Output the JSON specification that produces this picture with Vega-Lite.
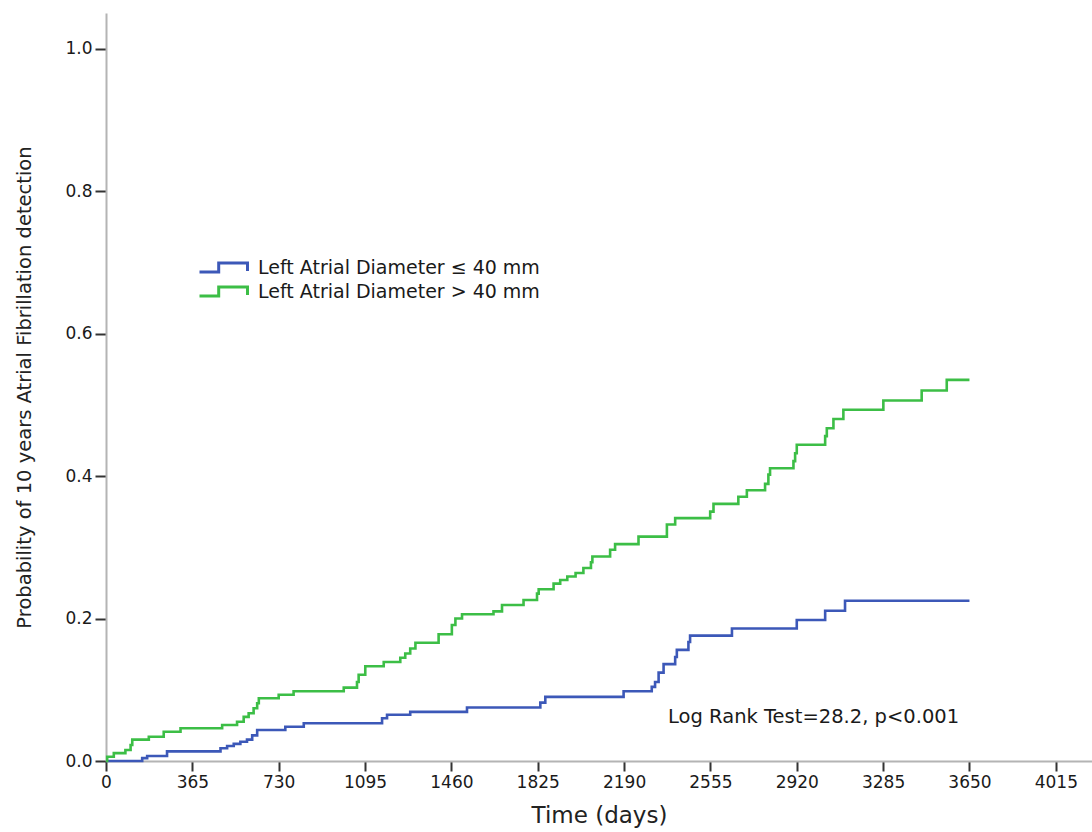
{
  "$schema": "https://vega.github.io/schema/vega-lite/v6.json",
  "autosize": {"type": "none"},
  "padding": {"left": 106, "top": 13, "right": 0, "bottom": 71},
  "width": 986,
  "height": 748,
  "background": "white",
  "config": {"view": {"stroke": null}, "font": "DejaVu Sans"},
  "layer": [
    {
      "data": {"values": [
        {"group": "Left Atrial Diameter ≤ 40 mm", "t": 0, "p": 0},
        {"group": "Left Atrial Diameter ≤ 40 mm", "t": 153, "p": 0.004},
        {"group": "Left Atrial Diameter ≤ 40 mm", "t": 174, "p": 0.007},
        {"group": "Left Atrial Diameter ≤ 40 mm", "t": 258, "p": 0.0135},
        {"group": "Left Atrial Diameter ≤ 40 mm", "t": 484, "p": 0.018},
        {"group": "Left Atrial Diameter ≤ 40 mm", "t": 512, "p": 0.021},
        {"group": "Left Atrial Diameter ≤ 40 mm", "t": 540, "p": 0.024},
        {"group": "Left Atrial Diameter ≤ 40 mm", "t": 568, "p": 0.027},
        {"group": "Left Atrial Diameter ≤ 40 mm", "t": 596, "p": 0.030},
        {"group": "Left Atrial Diameter ≤ 40 mm", "t": 618, "p": 0.036},
        {"group": "Left Atrial Diameter ≤ 40 mm", "t": 639, "p": 0.0435},
        {"group": "Left Atrial Diameter ≤ 40 mm", "t": 758, "p": 0.048},
        {"group": "Left Atrial Diameter ≤ 40 mm", "t": 836, "p": 0.053},
        {"group": "Left Atrial Diameter ≤ 40 mm", "t": 1167, "p": 0.060},
        {"group": "Left Atrial Diameter ≤ 40 mm", "t": 1188, "p": 0.065},
        {"group": "Left Atrial Diameter ≤ 40 mm", "t": 1286, "p": 0.069},
        {"group": "Left Atrial Diameter ≤ 40 mm", "t": 1526, "p": 0.075},
        {"group": "Left Atrial Diameter ≤ 40 mm", "t": 1836, "p": 0.082},
        {"group": "Left Atrial Diameter ≤ 40 mm", "t": 1857, "p": 0.090},
        {"group": "Left Atrial Diameter ≤ 40 mm", "t": 2188, "p": 0.098},
        {"group": "Left Atrial Diameter ≤ 40 mm", "t": 2307, "p": 0.104},
        {"group": "Left Atrial Diameter ≤ 40 mm", "t": 2321, "p": 0.111},
        {"group": "Left Atrial Diameter ≤ 40 mm", "t": 2336, "p": 0.124},
        {"group": "Left Atrial Diameter ≤ 40 mm", "t": 2357, "p": 0.136},
        {"group": "Left Atrial Diameter ≤ 40 mm", "t": 2406, "p": 0.146},
        {"group": "Left Atrial Diameter ≤ 40 mm", "t": 2413, "p": 0.156},
        {"group": "Left Atrial Diameter ≤ 40 mm", "t": 2462, "p": 0.167},
        {"group": "Left Atrial Diameter ≤ 40 mm", "t": 2469, "p": 0.176},
        {"group": "Left Atrial Diameter ≤ 40 mm", "t": 2646, "p": 0.186},
        {"group": "Left Atrial Diameter ≤ 40 mm", "t": 2920, "p": 0.198},
        {"group": "Left Atrial Diameter ≤ 40 mm", "t": 3040, "p": 0.211},
        {"group": "Left Atrial Diameter ≤ 40 mm", "t": 3124, "p": 0.225},
        {"group": "Left Atrial Diameter ≤ 40 mm", "t": 3650, "p": 0.225},
        {"group": "Left Atrial Diameter > 40 mm", "t": 0, "p": 0},
        {"group": "Left Atrial Diameter > 40 mm", "t": 5, "p": 0.006},
        {"group": "Left Atrial Diameter > 40 mm", "t": 33, "p": 0.011},
        {"group": "Left Atrial Diameter > 40 mm", "t": 82, "p": 0.0155},
        {"group": "Left Atrial Diameter > 40 mm", "t": 104, "p": 0.0225},
        {"group": "Left Atrial Diameter > 40 mm", "t": 111, "p": 0.030},
        {"group": "Left Atrial Diameter > 40 mm", "t": 181, "p": 0.034},
        {"group": "Left Atrial Diameter > 40 mm", "t": 244, "p": 0.041},
        {"group": "Left Atrial Diameter > 40 mm", "t": 315, "p": 0.046},
        {"group": "Left Atrial Diameter > 40 mm", "t": 491, "p": 0.0505},
        {"group": "Left Atrial Diameter > 40 mm", "t": 554, "p": 0.055},
        {"group": "Left Atrial Diameter > 40 mm", "t": 582, "p": 0.062},
        {"group": "Left Atrial Diameter > 40 mm", "t": 603, "p": 0.067},
        {"group": "Left Atrial Diameter > 40 mm", "t": 624, "p": 0.074},
        {"group": "Left Atrial Diameter > 40 mm", "t": 639, "p": 0.081},
        {"group": "Left Atrial Diameter > 40 mm", "t": 646, "p": 0.088},
        {"group": "Left Atrial Diameter > 40 mm", "t": 730, "p": 0.093},
        {"group": "Left Atrial Diameter > 40 mm", "t": 793, "p": 0.098},
        {"group": "Left Atrial Diameter > 40 mm", "t": 1005, "p": 0.103},
        {"group": "Left Atrial Diameter > 40 mm", "t": 1061, "p": 0.111},
        {"group": "Left Atrial Diameter > 40 mm", "t": 1068, "p": 0.121},
        {"group": "Left Atrial Diameter > 40 mm", "t": 1096, "p": 0.133},
        {"group": "Left Atrial Diameter > 40 mm", "t": 1174, "p": 0.139},
        {"group": "Left Atrial Diameter > 40 mm", "t": 1244, "p": 0.145},
        {"group": "Left Atrial Diameter > 40 mm", "t": 1265, "p": 0.151},
        {"group": "Left Atrial Diameter > 40 mm", "t": 1286, "p": 0.158},
        {"group": "Left Atrial Diameter > 40 mm", "t": 1308, "p": 0.166},
        {"group": "Left Atrial Diameter > 40 mm", "t": 1406, "p": 0.178},
        {"group": "Left Atrial Diameter > 40 mm", "t": 1462, "p": 0.191},
        {"group": "Left Atrial Diameter > 40 mm", "t": 1477, "p": 0.200},
        {"group": "Left Atrial Diameter > 40 mm", "t": 1505, "p": 0.206},
        {"group": "Left Atrial Diameter > 40 mm", "t": 1638, "p": 0.210},
        {"group": "Left Atrial Diameter > 40 mm", "t": 1674, "p": 0.219},
        {"group": "Left Atrial Diameter > 40 mm", "t": 1765, "p": 0.226},
        {"group": "Left Atrial Diameter > 40 mm", "t": 1822, "p": 0.235},
        {"group": "Left Atrial Diameter > 40 mm", "t": 1829, "p": 0.241},
        {"group": "Left Atrial Diameter > 40 mm", "t": 1892, "p": 0.249},
        {"group": "Left Atrial Diameter > 40 mm", "t": 1920, "p": 0.254},
        {"group": "Left Atrial Diameter > 40 mm", "t": 1950, "p": 0.259},
        {"group": "Left Atrial Diameter > 40 mm", "t": 1985, "p": 0.264},
        {"group": "Left Atrial Diameter > 40 mm", "t": 2018, "p": 0.271},
        {"group": "Left Atrial Diameter > 40 mm", "t": 2050, "p": 0.279},
        {"group": "Left Atrial Diameter > 40 mm", "t": 2056, "p": 0.287},
        {"group": "Left Atrial Diameter > 40 mm", "t": 2131, "p": 0.2966},
        {"group": "Left Atrial Diameter > 40 mm", "t": 2152, "p": 0.3045},
        {"group": "Left Atrial Diameter > 40 mm", "t": 2251, "p": 0.315},
        {"group": "Left Atrial Diameter > 40 mm", "t": 2371, "p": 0.332},
        {"group": "Left Atrial Diameter > 40 mm", "t": 2406, "p": 0.341},
        {"group": "Left Atrial Diameter > 40 mm", "t": 2554, "p": 0.350},
        {"group": "Left Atrial Diameter > 40 mm", "t": 2568, "p": 0.361},
        {"group": "Left Atrial Diameter > 40 mm", "t": 2673, "p": 0.371},
        {"group": "Left Atrial Diameter > 40 mm", "t": 2709, "p": 0.380},
        {"group": "Left Atrial Diameter > 40 mm", "t": 2786, "p": 0.389},
        {"group": "Left Atrial Diameter > 40 mm", "t": 2800, "p": 0.402},
        {"group": "Left Atrial Diameter > 40 mm", "t": 2807, "p": 0.411},
        {"group": "Left Atrial Diameter > 40 mm", "t": 2906, "p": 0.421},
        {"group": "Left Atrial Diameter > 40 mm", "t": 2913, "p": 0.432},
        {"group": "Left Atrial Diameter > 40 mm", "t": 2920, "p": 0.444},
        {"group": "Left Atrial Diameter > 40 mm", "t": 3040, "p": 0.456},
        {"group": "Left Atrial Diameter > 40 mm", "t": 3047, "p": 0.467},
        {"group": "Left Atrial Diameter > 40 mm", "t": 3075, "p": 0.480},
        {"group": "Left Atrial Diameter > 40 mm", "t": 3117, "p": 0.493},
        {"group": "Left Atrial Diameter > 40 mm", "t": 3286, "p": 0.506},
        {"group": "Left Atrial Diameter > 40 mm", "t": 3448, "p": 0.520},
        {"group": "Left Atrial Diameter > 40 mm", "t": 3554, "p": 0.535},
        {"group": "Left Atrial Diameter > 40 mm", "t": 3650, "p": 0.535}
      ]},
      "mark": {"type": "line", "interpolate": "step-after", "strokeWidth": 2.6},
      "encoding": {
        "x": {
          "field": "t", "type": "quantitative",
          "scale": {"domain": [0, 4168], "nice": false, "zero": false},
          "axis": {
            "title": "Time (days)",
            "values": [0, 365, 730, 1095, 1460, 1825, 2190, 2555, 2920, 3285, 3650, 4015],
            "format": "d",
            "labelFlush": false,
            "grid": false,
            "domainColor": "#b4b4b4", "domainWidth": 2,
            "tickColor": "#333333", "tickWidth": 2, "tickSize": 10,
            "labelFontSize": 17, "labelColor": "#1a1a1a", "labelPadding": 3,
            "titleFontSize": 23, "titleFontWeight": "normal", "titleColor": "#222222", "titlePadding": 14
          }
        },
        "y": {
          "field": "p", "type": "quantitative",
          "scale": {"domain": [0, 1.05], "nice": false},
          "axis": {
            "title": "Probability of 10 years Atrial Fibrillation detection",
            "values": [0, 0.2, 0.4, 0.6, 0.8, 1.0],
            "format": ".1f",
            "labelFlush": false,
            "grid": false,
            "domainColor": "#b4b4b4", "domainWidth": 2,
            "tickColor": "#333333", "tickWidth": 2, "tickSize": 11,
            "labelFontSize": 17, "labelColor": "#1a1a1a", "labelPadding": 3,
            "titleFontSize": 19.5, "titleFontWeight": "normal", "titleColor": "#222222", "titlePadding": 30
          }
        },
        "color": {
          "field": "group", "type": "nominal",
          "scale": {
            "domain": ["Left Atrial Diameter ≤ 40 mm", "Left Atrial Diameter > 40 mm"],
            "range": ["#3c58b8", "#3cbe46"]
          },
          "legend": {
            "title": null,
            "orient": "none",
            "legendX": 104,
            "legendY": 241,
            "symbolType": "M-2,0.375L-0.4,0.375L-0.4,-0.375L2,-0.375L2,0.3",
            "symbolSize": 576,
            "symbolStrokeWidth": 3,
            "symbolFillColor": "transparent",
            "labelFontSize": 19,
            "labelLimit": 500,
            "labelColor": "#1a1a1a",
            "labelOffset": 21,
            "rowPadding": 0
          }
        }
      }
    },
    {
      "data": {"values": [{"t": 2376, "p": 0.062, "label": "Log Rank Test=28.2, p<0.001"}]},
      "mark": {"type": "text", "align": "left", "baseline": "middle", "fontSize": 19.5, "color": "#1a1a1a"},
      "encoding": {
        "x": {"field": "t", "type": "quantitative"},
        "y": {"field": "p", "type": "quantitative"},
        "text": {"field": "label"}
      }
    }
  ]
}
